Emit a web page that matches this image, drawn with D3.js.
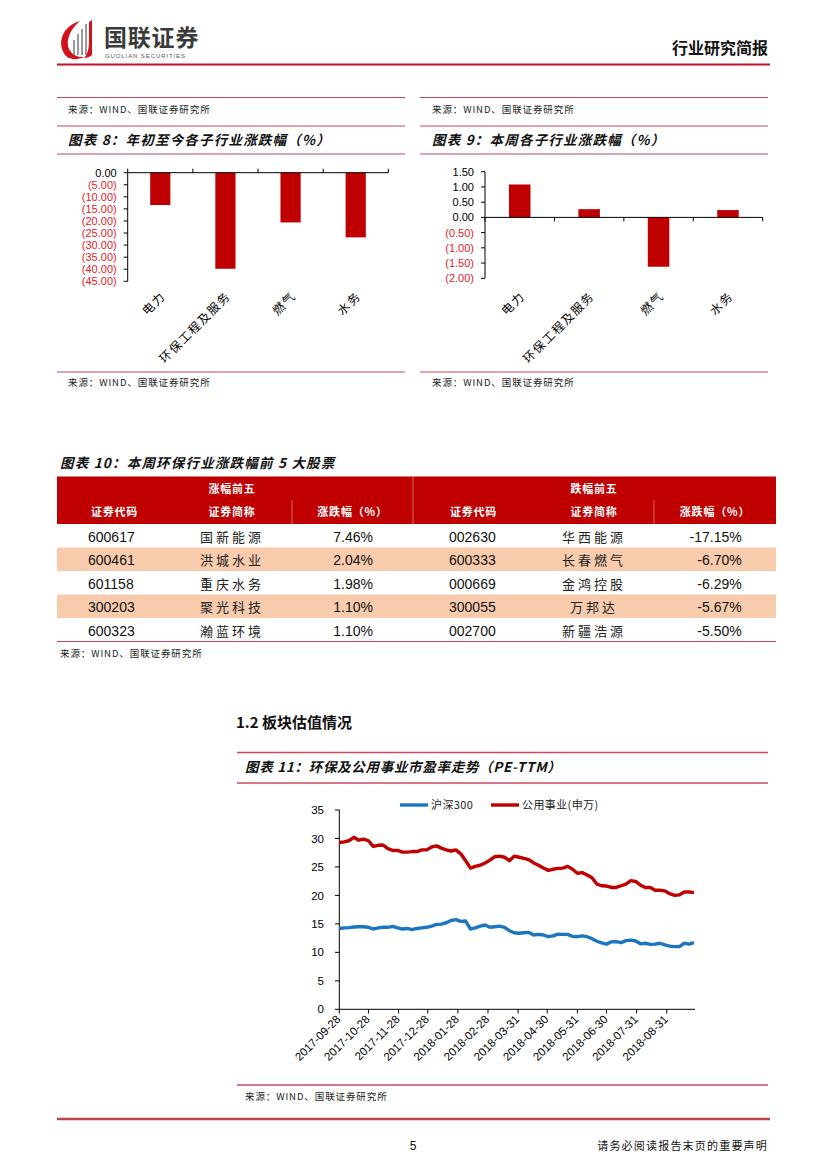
<!DOCTYPE html>
<html><head><meta charset="utf-8">
<script src="https://cdn.jsdelivr.net/npm/d3@7"></script>
<style>
body{margin:0;background:#fff;}
svg{display:block;}
text{font-family:"Liberation Sans","Noto Sans CJK SC",sans-serif;}
.cjk{font-family:"Noto Sans CJK SC",sans-serif;}
</style></head>
<body>
<svg id="page" width="827" height="1169"></svg>
<script>
// ---------- DATA ----------
const subCategories = ["电力","环保工程及服务","燃气","水务"];
const ytdValues = [-13.4, -39.8, -20.6, -26.8];
const ytdTicks = [0,-5,-10,-15,-20,-25,-30,-35,-40,-45];
const weekValues = [1.08, 0.27, -1.62, 0.24];
const weekTicks = [1.5,1.0,0.5,0,-0.5,-1.0,-1.5,-2.0];

const gainCodes = ["600617","600461","601158","300203","600323"];
const gainNames = ["国新能源","洪城水业","重庆水务","聚光科技","瀚蓝环境"];
const gainPct = ["7.46%","2.04%","1.98%","1.10%","1.10%"];
const loseCodes = ["002630","600333","000669","300055","002700"];
const loseNames = ["华西能源","长春燃气","金鸿控股","万邦达","新疆浩源"];
const losePct = ["-17.15%","-6.70%","-6.29%","-5.67%","-5.50%"];

const peDates = ["2017-09-28","2017-10-03","2017-10-08","2017-10-13","2017-10-18","2017-10-23","2017-10-28","2017-11-02","2017-11-07","2017-11-12","2017-11-17","2017-11-22","2017-11-27","2017-12-02","2017-12-07","2017-12-12","2017-12-17","2017-12-22","2017-12-27","2018-01-01","2018-01-06","2018-01-11","2018-01-16","2018-01-21","2018-01-26","2018-01-31","2018-02-05","2018-02-10","2018-02-15","2018-02-20","2018-02-25","2018-03-02","2018-03-07","2018-03-12","2018-03-17","2018-03-22","2018-03-27","2018-04-01","2018-04-06","2018-04-11","2018-04-16","2018-04-21","2018-04-26","2018-05-01","2018-05-06","2018-05-11","2018-05-16","2018-05-21","2018-05-26","2018-05-31","2018-06-05","2018-06-10","2018-06-15","2018-06-20","2018-06-25","2018-06-30","2018-07-05","2018-07-10","2018-07-15","2018-07-20","2018-07-25","2018-07-30","2018-08-04","2018-08-09","2018-08-14","2018-08-19","2018-08-24","2018-08-29","2018-09-03","2018-09-08","2018-09-13","2018-09-18","2018-09-23","2018-09-28"];
const hs300 = [14.2,14.3,14.35,14.45,14.5,14.5,14.4,14.1,14.3,14.4,14.4,14.55,14.3,14.1,14.2,14.0,14.2,14.3,14.4,14.6,14.9,14.95,15.2,15.6,15.75,15.45,15.5,14.1,14.3,14.6,14.8,14.4,14.5,14.6,14.4,13.8,13.45,13.35,13.45,13.5,13.05,13.15,13.05,12.75,12.9,13.2,13.15,13.15,12.8,12.75,12.9,12.75,12.4,11.95,11.65,11.45,11.85,11.9,11.7,12.05,12.15,12.0,11.5,11.6,11.4,11.45,11.6,11.3,11.1,11.0,11.0,11.6,11.45,11.7];
const utilities = [29.3,29.4,29.6,30.2,29.7,29.9,29.6,28.6,28.8,28.85,28.2,27.9,27.9,27.6,27.6,27.7,27.7,28.0,28.0,28.5,28.7,28.3,28.0,27.8,28.0,27.3,26.1,24.8,25.1,25.3,25.7,26.2,26.8,26.9,26.7,26.1,26.9,26.7,26.5,26.3,25.7,25.3,24.8,24.4,24.6,24.75,24.8,25.1,24.6,23.9,24.0,23.6,23.1,22.0,21.7,21.65,21.4,21.4,21.7,22.0,22.6,22.45,21.8,21.4,21.4,20.9,20.9,20.8,20.3,20.0,20.1,20.6,20.6,20.5];
const peTicks = ["2017-09-28","2017-10-28","2017-11-28","2017-12-28","2018-01-28","2018-02-28","2018-03-31","2018-04-30","2018-05-31","2018-06-30","2018-07-31","2018-08-31"];
const peYTicks = [0,5,10,15,20,25,30,35];
const seriesNames = ["沪深300","公用事业(申万)"];

// ---------- STYLE ----------
const RED = "#C00000", LINE = "#C44A62", NEG = "#E8202A", BLUE = "#1C75C0", PEACH = "#F8CBAD";
const svg = d3.select("#page");
const src = "来源：WIND、国联证券研究所";

// ---------- HEADER ----------
const logo = svg.append("g");
logo.append("path").attr("fill", "#D0121B")
  .attr("d", "M80,21 C62,26 56,44 66,56 C70,60 78,60 84,57 C74,58 66,50 68,40 C70,31 75,25 80,21 Z");
[[74,40,55],[78,34,55],[82,29,55],[86,24,55]].forEach(b=>{
  logo.append("line").attr("x1",b[0]).attr("x2",b[0]).attr("y1",b[1]).attr("y2",b[2])
    .attr("stroke","#9a9a9a").attr("stroke-width",2);
});
logo.append("path").attr("fill","#D0121B")
  .attr("d","M89,22 L92,20 L92,55 C90,57 87,58 84,58 C88,54 89,48 89,40 Z");
logo.append("text").attr("class","cjk").attr("x",104).attr("y",45.5).attr("font-size",23)
  .attr("font-weight","bold").attr("fill","#3a3a3a").attr("letter-spacing",0.8).text("国联证券");
logo.append("text").attr("x",105).attr("y",58).attr("font-size",6).attr("fill","#555")
  .attr("letter-spacing",0.9).text("GUOLIAN SECURITIES");
svg.append("text").attr("class","cjk").attr("x",768).attr("y",54).attr("text-anchor","end")
  .attr("font-size",16).attr("font-weight","bold").attr("fill","#111").text("行业研究简报");
svg.append("line").attr("x1",57).attr("x2",770).attr("y1",64.5).attr("y2",64.5)
  .attr("stroke","#C8102E").attr("stroke-width",2);

// helpers
function hline(x1,x2,y,w){svg.append("line").attr("x1",x1).attr("x2",x2).attr("y1",y).attr("y2",y).attr("stroke",LINE).attr("stroke-width",w||1.2);}
function srcText(x,y){svg.append("text").attr("class","cjk").attr("x",x).attr("y",y).attr("font-size",9.5).attr("letter-spacing",0.9).attr("fill","#222").text(src);}
function title(x,y,t,ls){svg.append("text").attr("class","cjk").attr("x",x).attr("y",y).attr("font-size",13.5).attr("letter-spacing",ls==null?1.2:ls).attr("font-weight","bold").attr("font-style","italic").attr("fill","#111").text(t);}

// ---------- BAR PANELS ----------
function barPanel(o){
  hline(o.x0,o.x1,97.5); srcText(o.sx,113);
  hline(o.x0,o.x1,126); title(o.sx,145,o.title); hline(o.x0,o.x1,154);
  hline(o.x0,o.x1,372); srcText(o.sx,386);
  const y = d3.scaleLinear().domain(o.domain).range(o.yr);
  const x = d3.scaleBand().domain(subCategories).range([o.ax, o.axEnd]).paddingInner(0.69).paddingOuter(0.345);
  const g = svg.append("g");
  g.selectAll("rect").data(o.values).join("rect")
    .attr("x",(d,i)=>x(subCategories[i])).attr("width",x.bandwidth())
    .attr("y",d=>y(Math.max(0,d))).attr("height",d=>Math.abs(y(d)-y(0)))
    .attr("fill",RED);
  g.append("line").attr("x1",o.ax).attr("x2",o.ax).attr("y1",y(o.domain[1])).attr("y2",y(o.domain[0])).attr("stroke","#000");
  g.selectAll("line.yt").data(o.ticks).join("line").attr("class","yt")
    .attr("x1",o.ax-4).attr("x2",o.ax).attr("y1",d=>y(d)).attr("y2",d=>y(d)).attr("stroke","#000");
  g.selectAll("text.yl").data(o.ticks).join("text").attr("class","yl")
    .attr("x",o.ax-11).attr("y",d=>y(d)).attr("dy","0.36em").attr("text-anchor","end")
    .attr("font-size",11).attr("fill",d=>d<0?NEG:"#000")
    .text(d=>d<0?"("+Math.abs(d).toFixed(2)+")":d.toFixed(2));
  g.append("line").attr("x1",o.ax).attr("x2",o.axEnd).attr("y1",y(0)).attr("y2",y(0)).attr("stroke","#000");
  const bounds = d3.range(subCategories.length+1).map(i=>o.ax + i*x.step());
  g.selectAll("line.xt").data(bounds).join("line").attr("class","xt")
    .attr("x1",d=>d).attr("x2",d=>d).attr("y1",y(0)+o.tickDir).attr("y2",y(0)).attr("stroke","#000");
  g.selectAll("text.xl").data(subCategories).join("text").attr("class","xl cjk")
    .attr("transform",d=>`translate(${x(d)+x.bandwidth()/2+6},${o.labY}) rotate(-45)`)
    .attr("text-anchor","end").attr("font-size",12).attr("letter-spacing",1.5).attr("fill","#000").text(d=>d);
}
barPanel({x0:57,x1:405,sx:68,title:"图表 8：年初至今各子行业涨跌幅（%）",domain:[-45,0],yr:[281.3,172.7],
  ax:127.7,axEnd:388.3,values:ytdValues,ticks:ytdTicks,tickDir:-4,labY:297});
barPanel({x0:420,x1:768,sx:432,title:"图表 9：本周各子行业涨跌幅（%）",domain:[-2,1.5],yr:[278.3,171.7],
  ax:485,axEnd:762.7,values:weekValues,ticks:weekTicks,tickDir:4,labY:297});

// ---------- TABLE ----------
title(60,468,"图表 10：本周环保行业涨跌幅前 5 大股票");
const tX0 = 57, tX1 = 776, tTop = 476.5, tHdr = 524, rowH = 23.5;
svg.append("rect").attr("x",tX0).attr("y",tTop).attr("width",tX1-tX0).attr("height",tHdr-tTop).attr("fill",RED);
const halves = [
  {cols:[57,172,292,413], head:"涨幅前五", codes:gainCodes, names:gainNames, pct:gainPct, codeX:88, pctX:373},
  {cols:[413,534,654,776], head:"跌幅前五", codes:loseCodes, names:loseNames, pct:losePct, codeX:449, pctX:741.7}
];
const rows = d3.range(5);
svg.selectAll("rect.band").data(rows.filter(r=>r%2===1)).join("rect").attr("class","band")
  .attr("x",tX0).attr("width",tX1-tX0).attr("y",r=>tHdr+r*rowH).attr("height",rowH).attr("fill",PEACH);
svg.append("line").attr("x1",413).attr("x2",413).attr("y1",tTop).attr("y2",tHdr).attr("stroke","#e08080").attr("stroke-width",0.8);
const subHeads = ["证券代码","证券简称","涨跌幅（%）"];
halves.forEach(h=>{
  const c = h.cols;
  svg.append("line").attr("x1",c[2]).attr("x2",c[2]).attr("y1",500).attr("y2",tHdr).attr("stroke","#e08080").attr("stroke-width",0.8);
  svg.append("text").attr("class","cjk").attr("x",(c[1]+c[2])/2).attr("y",489).attr("dy","0.36em")
    .attr("text-anchor","middle").attr("font-size",11).attr("letter-spacing",0.8).attr("font-weight","bold").attr("fill","#fff").text(h.head);
  subHeads.forEach((t,i)=>{
    svg.append("text").attr("class","cjk").attr("x",(c[i]+c[i+1])/2).attr("y",512).attr("dy","0.36em")
      .attr("text-anchor","middle").attr("font-size",11).attr("letter-spacing",0.8).attr("font-weight","bold").attr("fill","#fff").text(t);
  });
  svg.selectAll(null).data(h.codes).join("text").attr("x",h.codeX).attr("y",(d,i)=>tHdr+rowH*(i+0.55)).attr("dy","0.36em")
    .attr("font-size",14).attr("fill","#111").text(d=>d);
  svg.selectAll(null).data(h.names).join("text").attr("class","cjk").attr("x",(c[1]+c[2])/2).attr("y",(d,i)=>tHdr+rowH*(i+0.55)).attr("dy","0.36em")
    .attr("text-anchor","middle").attr("font-size",13).attr("fill","#222").attr("letter-spacing",3).text(d=>d);
  svg.selectAll(null).data(h.pct).join("text").attr("x",h.pctX).attr("y",(d,i)=>tHdr+rowH*(i+0.55)).attr("dy","0.36em")
    .attr("text-anchor","end").attr("font-size",14).attr("fill","#111").text(d=>d);
});
svg.append("line").attr("x1",tX0).attr("x2",tX1).attr("y1",tHdr+5*rowH).attr("y2",tHdr+5*rowH).attr("stroke",LINE).attr("stroke-width",1.2);
srcText(60,657);

// ---------- SECTION 1.2 ----------
svg.append("text").attr("class","cjk").attr("x",236).attr("y",728).attr("font-size",15).attr("font-weight","bold").attr("fill","#111").text("1.2 板块估值情况");
hline(237,768,752.5,1.5);
title(245,772,"图表 11：环保及公用事业市盈率走势（PE-TTM）",0.7);
hline(237,768,783,1.5);

// ---------- LINE CHART ----------
const parse = d3.timeParse("%Y-%m-%d");
const xT = d3.scaleTime().domain([parse("2017-09-28"), parse("2018-09-28")]).range([339.3, 694]);
const yT = d3.scaleLinear().domain([0,35]).range([1009.3, 810]);
const lg = svg.append("g");
lg.append("line").attr("x1",339.3).attr("x2",339.3).attr("y1",810).attr("y2",1009.3).attr("stroke","#000");
lg.append("line").attr("x1",339.3).attr("x2",695).attr("y1",1009.3).attr("y2",1009.3).attr("stroke","#000");
lg.selectAll("line.yt").data(peYTicks).join("line").attr("class","yt")
  .attr("x1",335).attr("x2",339.3).attr("y1",d=>yT(d)).attr("y2",d=>yT(d)).attr("stroke","#000");
lg.selectAll("text.yl").data(peYTicks).join("text").attr("class","yl")
  .attr("x",324).attr("y",d=>yT(d)).attr("dy","0.36em").attr("text-anchor","end").attr("font-size",11.5).attr("fill","#000").text(d=>d);
lg.selectAll("line.xt").data(peTicks).join("line").attr("class","xt")
  .attr("x1",d=>xT(parse(d))).attr("x2",d=>xT(parse(d))).attr("y1",1009.3).attr("y2",1013.5).attr("stroke","#000");
lg.selectAll("text.xl").data(peTicks).join("text").attr("class","xl")
  .attr("transform",d=>`translate(${xT(parse(d))+2},${1020}) rotate(-45)`)
  .attr("text-anchor","end").attr("font-size",11.5).attr("fill","#000").text(d=>d);
const line = d3.line().x((d,i)=>xT(parse(peDates[i]))).y(d=>yT(d));
lg.append("path").datum(utilities).attr("d",line).attr("fill","none").attr("stroke",RED).attr("stroke-width",3.4).attr("stroke-linejoin","round");
lg.append("path").datum(hs300).attr("d",line).attr("fill","none").attr("stroke",BLUE).attr("stroke-width",3.4).attr("stroke-linejoin","round");
[[400,BLUE,seriesNames[0]],[491,RED,seriesNames[1]]].forEach(l=>{
  lg.append("line").attr("x1",l[0]).attr("x2",l[0]+28).attr("y1",805).attr("y2",805).attr("stroke",l[1]).attr("stroke-width",3.4);
  lg.append("text").attr("class","cjk").attr("x",l[0]+31).attr("y",805).attr("dy","0.36em").attr("font-size",11).attr("letter-spacing",0.4).attr("fill","#222").text(l[2]);
});
hline(237,768,1085,1.5);
srcText(245,1100);

// ---------- FOOTER ----------
svg.append("line").attr("x1",57).attr("x2",770).attr("y1",1119).attr("y2",1119).attr("stroke","#C0404D").attr("stroke-width",2.5);
svg.append("text").attr("x",413).attr("y",1150).attr("text-anchor","middle").attr("font-size",12).attr("fill","#111").text("5");
svg.append("text").attr("class","cjk").attr("x",768).attr("y",1150).attr("text-anchor","end").attr("font-size",11).attr("letter-spacing",1.2).attr("fill","#111").text("请务必阅读报告末页的重要声明");
</script>
</body></html>
